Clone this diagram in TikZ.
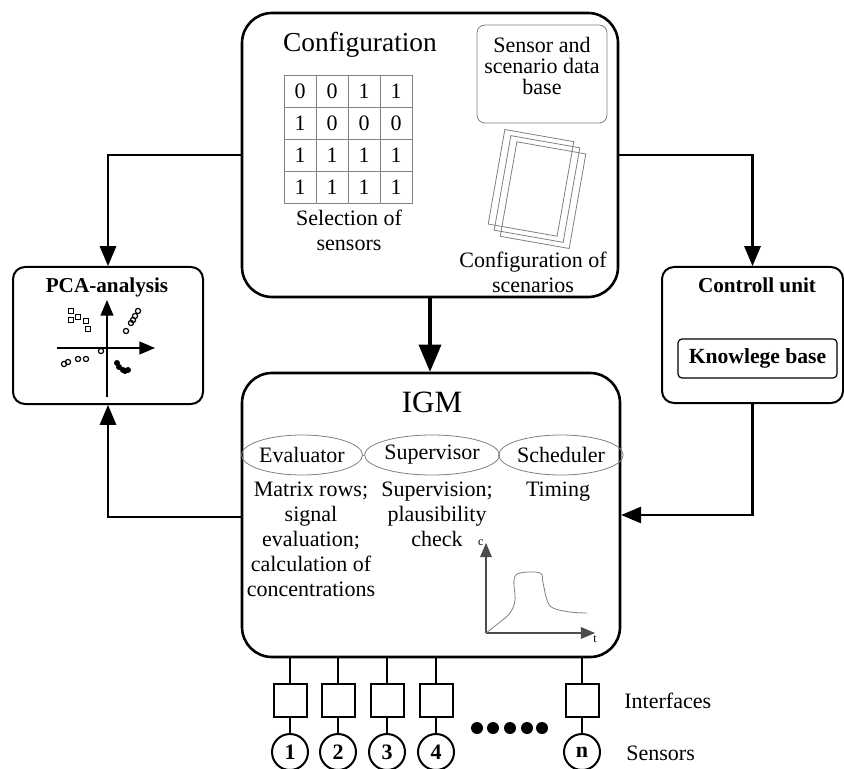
\documentclass[tikz,border=0pt]{standalone}
\usepackage{fontspec}
\setmainfont{Liberation Serif}
\usetikzlibrary{arrows, shapes.geometric, positioning}

\tikzset{
    box/.style={draw, line width=1.3pt, rounded corners=15pt, inner sep=0pt},
    panel/.style={draw, line width=1pt, rounded corners=6pt, inner sep=0pt},
    thinbox/.style={draw=gray, line width=.4pt, rounded corners=4pt, inner sep=0pt,
        align=center, font=\fontsize{11}{10.5}\selectfont},
    cell/.style={draw=gray, line width=.4pt, minimum size=16pt, inner sep=0pt},
    module/.style={ellipse, draw=gray, line width=.4pt, minimum width=56.5pt,
        minimum height=20pt, inner sep=0pt},
    desc/.style={align=center, anchor=north, inner sep=0pt},
    link/.style={->, line width=1.3pt},
    wire/.style={line width=1pt},
    iface/.style={draw, line width=1pt, minimum size=16.5pt, inner sep=0pt},
    sensor/.style={circle, draw, line width=1pt, minimum size=18pt, inner sep=0pt,
        font=\fontsize{11}{11}\selectfont\bfseries},
}

\begin{document}
\begin{tikzpicture}
    [x=.5pt, y=-.5pt,
     >=triangle 45,
     font=\fontsize{11}{12.5}\selectfont,
    ]
    \useasboundingbox (0,0) rectangle (844,769);

    % Configuration
    \node[box, minimum width=188pt, minimum height=142pt] (conf) at (430,155) {};
    \node[font=\fontsize{13.7}{14}\selectfont] (conftitle) at (360,45) {Configuration};
    \foreach \row [count=\r] in {{0,0,1,1},{1,0,0,0},{1,1,1,1},{1,1,1,1}}
        \foreach \v [count=\c] in \row
            \node[cell] (m\r\c) at ({268+32*\c},{59+32*\r}) {\v};
    \node[desc] (seltext) at (349,210) {Selection of\\sensors};
    \node[thinbox, minimum width=65pt, minimum height=49pt, text depth=8pt] (db) at (542,74)
        {Sensor and\\scenario data\\base};
    \begin{scope}[rotate around={-10:(537,189)}]
        \foreach \d in {0,7,14}
            \draw[gray, line width=.4pt]
                ({495+\d},{136+\d*5/7}) rectangle ({565+\d},{232+\d*5/7});
    \end{scope}
    \node[desc] (scentext) at (533,252) {Configuration of\\scenarios};

    % PCA
    \node[panel, minimum width=95pt, minimum height=68.5pt] (pca) at (108,335.5) {};
    \node[font=\fontsize{10.6}{11}\selectfont\bfseries] (pcatitle) at (107,287) {PCA-analysis};
    \draw[->, line width=.8pt] (107,397) -- (107,300);
    \draw[->, line width=.8pt] (57,348) -- (155,348);
    \foreach \px/\py in {71/311, 71/320, 78/317, 86/321, 88/329}
        \draw[line width=.6pt] ({\px-2.5},{\py-2.5}) rectangle ({\px+2.5},{\py+2.5});
    \foreach \px/\py in {126/331, 131/323, 133/320, 135/316, 138/311,
                         64/364, 68/362, 78/359, 86/359, 101/351}
        \draw[line width=.6pt] (\px,\py) circle (1.3pt);
    \foreach \px/\py in {117/363, 119/367, 123/370, 125/371, 128/370}
        \fill (\px,\py) circle (1.5pt);

    % Controll unit
    \node[panel, minimum width=90.5pt, minimum height=68pt] (ctrl) at (752.5,335) {};
    \node[font=\fontsize{10.6}{11}\selectfont\bfseries] (ctrltitle) at (757,285) {Controll unit};
    \node[draw, line width=.6pt, rounded corners=2pt, minimum width=79.5pt, minimum height=19.5pt,
          inner sep=0pt, font=\fontsize{10.8}{11}\selectfont\bfseries] (kb) at (757.5,358.5)
        {Knowlege base};

    % IGM
    \node[box, minimum width=189pt, minimum height=142pt] (igm) at (431,515) {};
    \node[font=\fontsize{15.5}{16}\selectfont] (igmtitle) at (432,402) {IGM};
    \node[module] (eval) at (302,455) {Evaluator};
    \node[module] (sup) at (432,455) {Supervisor};
    \node[module] (sched) at (561,455) {Scheduler};
    \draw[gray, line width=.4pt] (eval) -- (sup) -- (sched);
    \node[desc] (evaltext) at (311,482)
        {Matrix rows;\\signal\\evaluation;\\calculation of\\concentrations};
    \node[desc] (suptext) at (437,482) {Supervision;\\plausibility\\check};
    \node[desc] (schedtext) at (558,482) {Timing};

    % Concentration curve
    \coordinate (o) at (486,633);
    \draw[->, black!70, line width=.6pt] (o) -- (486,543)
        node[left, black, inner sep=1pt, font=\fontsize{6}{6}\selectfont] (cl) {c};
    \draw[->, black!70, line width=.6pt] (o) -- (595,633)
        node[below, black, inner sep=1pt, font=\fontsize{6}{6}\selectfont] (tl) {t};
    \draw[gray, line width=.4pt] plot[smooth, tension=.6] coordinates
        {(486,633) (500,622) (510,613) (515,600) (514,580) (520,573) (540,573)
         (543,583) (547,600) (553,608) (570,612) (587,613)};

    % Connections
    \draw[link] (conf.west) -| (pca.north);
    \draw[link] (conf.east) -| (ctrl.north);
    \draw[link, line width=2.2pt] (conf.south) -- (conf.south |- igm.north);
    \draw[link] ([yshift=-1pt]igm.west) -| (pca.south);
    \draw[link] (ctrl.south) |- (igm.east);

    % Interfaces and sensors
    \foreach \s/\sx in {1/290, 2/338, 3/387, 4/436, n/582} {
        \node[iface] (if\s) at (\sx,700) {};
        \node[sensor] (s\s) at (\sx,752) {\s};
        \draw[wire] (if\s |- igm.south) -- (if\s);
        \draw[wire] (if\s) -- (s\s);
    }
    \foreach \dx in {477,493,510,527,542}
        \fill (\dx,728) circle (3pt);
    \node[anchor=west, inner sep=0pt] (iflabel) at (624,701) {Interfaces};
    \node[anchor=west, inner sep=0pt] (slabel) at (626,753) {Sensors};
\end{tikzpicture}
\end{document}
